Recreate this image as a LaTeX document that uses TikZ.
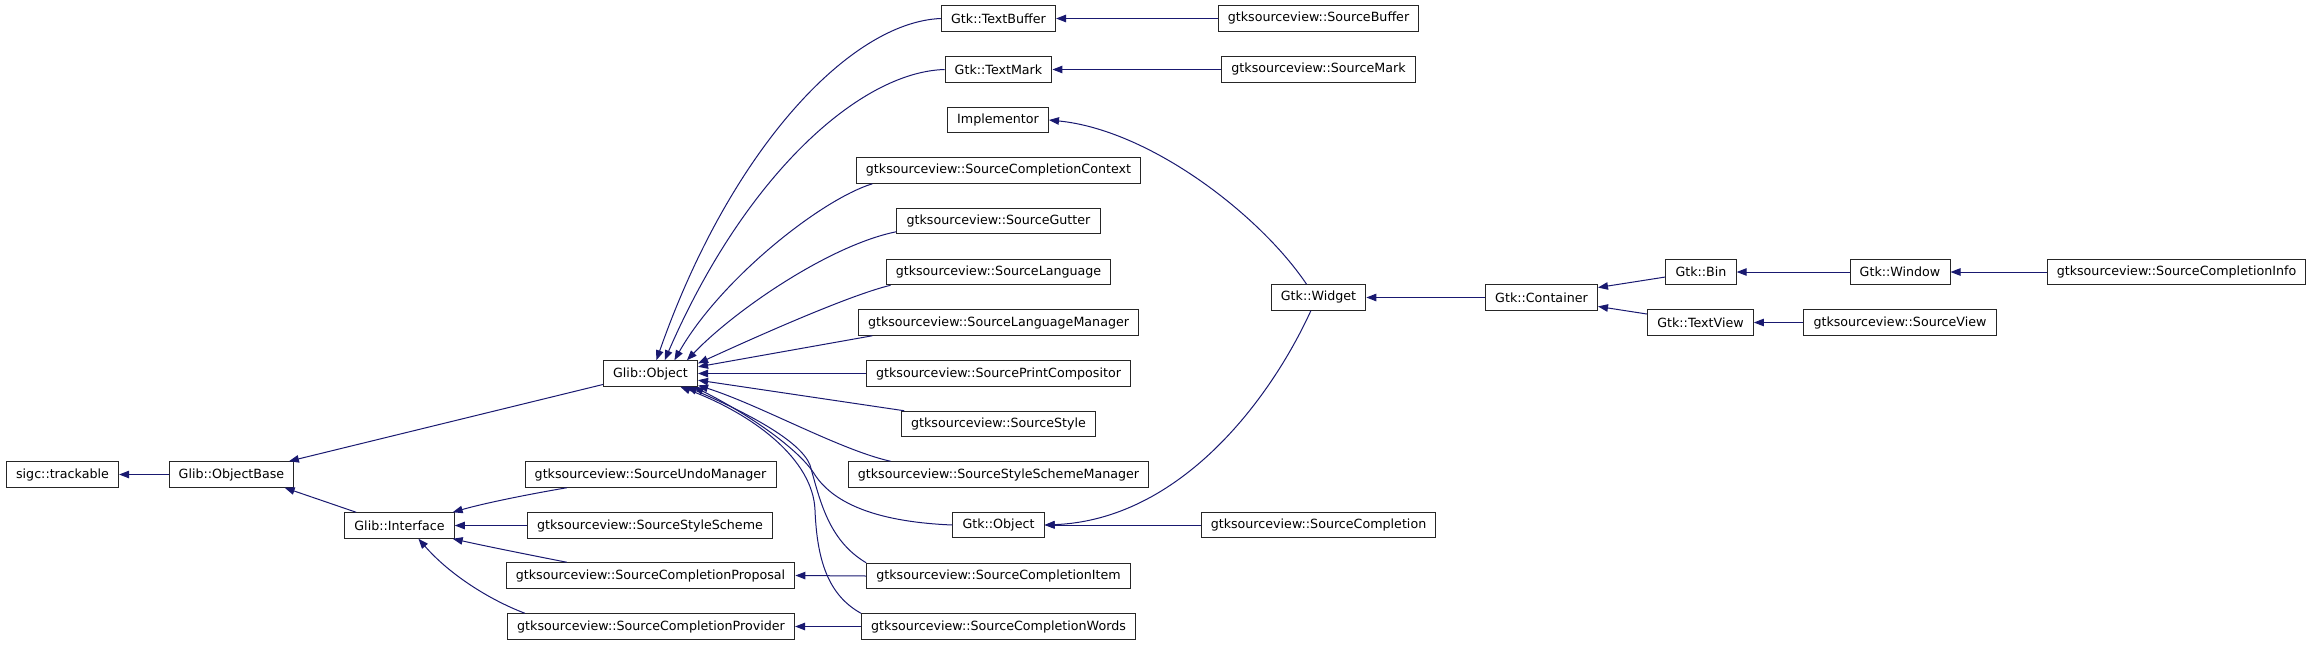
\documentclass[tikz,border=0pt]{standalone}
\usepackage{xcolor}
\usepackage{fontspec}
\setmainfont{DejaVu Sans}
\usetikzlibrary{arrows.meta}
\definecolor{edgeblue}{HTML}{191970}
\tikzset{cls/.style={draw=black!85, line width=1pt, fill=white, rectangle,
        font=\fontsize{12.67}{14}\selectfont, inner xsep=9.7pt, inner ysep=0pt,
        minimum height=25.5pt},
    inh/.style={draw=edgeblue, line width=1pt,
        -{Triangle[length=10pt,width=7.5pt]}}}

\begin{document}
\begin{tikzpicture}[x=1pt,y=-1pt]
    \useasboundingbox (0,0) rectangle (2312,645);

    % Glib base classes.
    \node[cls] (sigc)  at (62.5,474.5)  {sigc::trackable};
    \node[cls] (obase) at (231.5,474.5) {Glib::ObjectBase};
    \node[cls] (iface) at (399.5,525.5) {Glib::Interface};
    \node[cls] (gobj)  at (650.5,373.5) {Glib::Object};

    % Interface children.
    \node[cls] (undo)  at (650.5,474.5) {gtksourceview::SourceUndoManager};
    \node[cls] (sschm) at (650,525.5)   {gtksourceview::SourceStyleScheme};
    \node[cls] (prop)  at (650.5,575.5) {gtksourceview::SourceCompletionProposal};
    \node[cls] (prov)  at (651,626.5)   {gtksourceview::SourceCompletionProvider};

    % Object children.
    \node[cls] (tbuf)   at (998.5,18.5)  {Gtk::TextBuffer};
    \node[cls] (tmark)  at (998.5,69.5)  {Gtk::TextMark};
    \node[cls] (impl)   at (998,120)     {Implementor};
    \node[cls] (ctx)    at (998.5,170.5) {gtksourceview::SourceCompletionContext};
    \node[cls] (gut)    at (998.5,221)   {gtksourceview::SourceGutter};
    \node[cls] (lang)   at (998.5,272)   {gtksourceview::SourceLanguage};
    \node[cls] (lman)   at (998.5,322.5) {gtksourceview::SourceLanguageManager};
    \node[cls] (pcomp)  at (998.5,373.5) {gtksourceview::SourcePrintCompositor};
    \node[cls] (sstyle) at (998.5,424)   {gtksourceview::SourceStyle};
    \node[cls] (sscm)   at (998.5,474.5) {gtksourceview::SourceStyleSchemeManager};
    \node[cls] (gtkobj) at (998.5,525)   {Gtk::Object};
    \node[cls] (item)   at (998.5,576)   {gtksourceview::SourceCompletionItem};
    \node[cls] (words)  at (998.5,626.5) {gtksourceview::SourceCompletionWords};

    % Gtk side.
    \node[cls] (sbuf)   at (1318.5,18.5) {gtksourceview::SourceBuffer};
    \node[cls] (smark)  at (1318.5,69.5) {gtksourceview::SourceMark};
    \node[cls] (widget) at (1318.5,297.5) {Gtk::Widget};
    \node[cls] (scomp)  at (1318.5,525)  {gtksourceview::SourceCompletion};
    \node[cls] (cont)   at (1541.5,297.5) {Gtk::Container};
    \node[cls] (bin)    at (1701,272)    {Gtk::Bin};
    \node[cls] (tview)  at (1700.5,322.5) {Gtk::TextView};
    \node[cls] (win)    at (1900,272)    {Gtk::Window};
    \node[cls] (sview)  at (1900,322.5)  {gtksourceview::SourceView};
    \node[cls] (info)   at (2176.5,272)  {gtksourceview::SourceCompletionInfo};

    % Straight inheritance arrows.
    \foreach \a/\b in {obase/sigc, sschm/iface, pcomp/gobj, sbuf/tbuf, smark/tmark,
        item/prop, words/prov, scomp/gtkobj, cont/widget, win/bin, info/win, sview/tview}
        \draw[inh] (\a.west) -- (\b.east);
    \draw[inh] (gobj.193) -- (obase.13);
    \draw[inh] (iface.163) -- (obase.-14);
    \draw[inh] (bin.188) -- (cont.10);
    \draw[inh] (tview.171) -- (cont.-9);
    \draw[inh] (lman.186) -- (gobj.8);
    \draw[inh] (sstyle.172) -- (gobj.-8);

    % Curved arrows into Glib::Interface.
    \draw[inh] (undo.189) .. controls (530,494) and (485,503) .. (iface.14);
    \draw[inh] (prop.171) .. controls (530,555) and (485,546) .. (iface.-14);
    \draw[inh] (prov.174) .. controls (490,600) and (450,575) .. (iface.-35);

    % Curved arrows into Glib::Object.
    \draw[inh] (tbuf.west) .. controls (850,22) and (730,150) .. (gobj.66);
    \draw[inh] (tmark.west) .. controls (860,72) and (745,175) .. (gobj.43);
    \draw[inh] (ctx.186) .. controls (820,200) and (720,280) .. (gobj.29);
    \draw[inh] (gut.186) .. controls (830,245) and (735,310) .. (gobj.20);
    \draw[inh] (lang.187) .. controls (850,295) and (760,335) .. (gobj.12);
    \draw[inh] (sscm.173) .. controls (840,450) and (760,405) .. (gobj.-14);
    \draw[inh] (gtkobj.west) .. controls (880,522) and (835,505) .. (815,475)
        .. controls (800,450) and (750,415) .. (gobj.-17);
    \draw[inh] (item.north west) .. controls (828,540) and (820,500) .. (810,465)
        .. controls (800,440) and (745,412) .. (gobj.-20);
    \draw[inh] (words.north west) .. controls (828,595) and (817,560) .. (815,510)
        .. controls (813,460) and (755,415) .. (gobj.-24);

    % Curved arrows out of Gtk::Widget.
    \draw[inh] (widget.132) .. controls (1260,215) and (1150,130) .. (impl.east);
    \draw[inh] (widget.240) .. controls (1270,400) and (1180,520) .. (gtkobj.east);
\end{tikzpicture}
\end{document}
